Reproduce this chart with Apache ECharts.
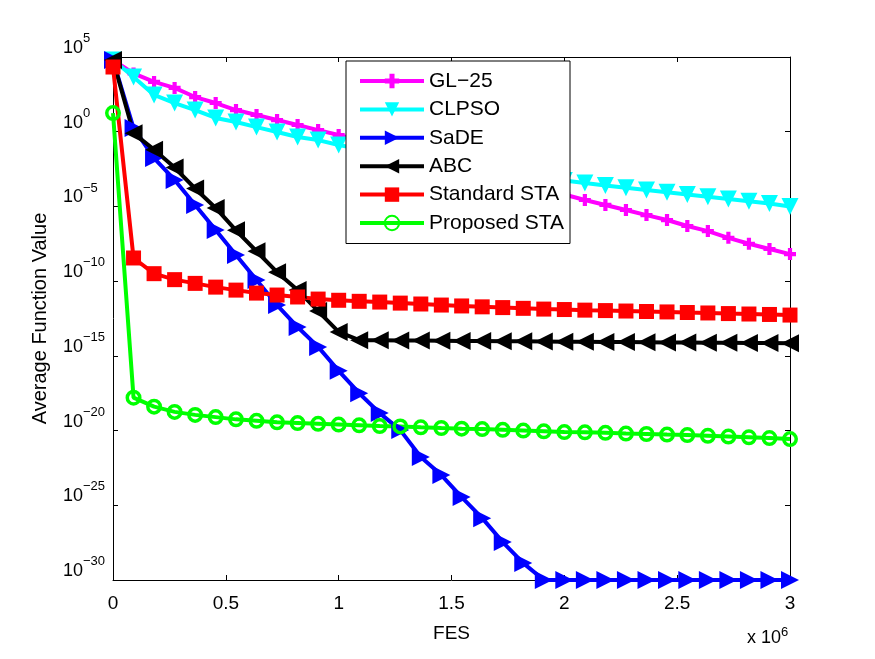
<!DOCTYPE html>
<html>
<head>
<meta charset="utf-8">
<script src="https://cdn.jsdelivr.net/npm/echarts@6/dist/echarts.min.js"></script>
<style>
  html, body { margin: 0; padding: 0; background: #ffffff; }
  #chart { width: 875px; height: 659px; }
</style>
</head>
<body>
<div id="chart"></div>
<script>
// FES in units of 1e6 (one marker per sample)
var fes = [0, 0.091, 0.182, 0.273, 0.364, 0.455, 0.545, 0.636, 0.727, 0.818,
  0.909, 1.0, 1.091, 1.182, 1.273, 1.364, 1.455, 1.545, 1.636, 1.727,
  1.818, 1.909, 2.0, 2.091, 2.182, 2.273, 2.364, 2.455, 2.545, 2.636,
  2.727, 2.818, 2.909, 3.0]

// log10 of average function value
var gl25 = [4.8, 3.9, 3.33, 2.93, 2.32, 1.92, 1.45, 1.12, 0.78, 0.45,
  0.11, -0.22, -0.58, -0.94, -1.3, -1.66, -2.02, -2.38, -2.74, -3.1,
  -3.46, -3.83, -4.2, -4.57, -4.9, -5.24, -5.58, -5.91, -6.31, -6.65,
  -7.1, -7.5, -7.85, -8.19]
var clpso = [4.8, 3.66, 2.46, 1.92, 1.45, 0.92, 0.65, 0.31, -0.02, -0.35,
  -0.56, -0.89, -1.15, -1.4, -1.65, -1.88, -2.1, -2.32, -2.53, -2.73,
  -2.92, -3.1, -3.27, -3.43, -3.6, -3.75, -3.9, -4.05, -4.2, -4.35,
  -4.5, -4.65, -4.8, -5.0]
var sade = [4.8, 0.25, -1.76, -3.23, -4.9, -6.58, -8.25, -9.93, -11.6, -13.07,
  -14.4, -16.0, -17.5, -18.83, -19.97, -21.77, -22.98, -24.45, -25.86, -27.46,
  -28.87, -30, -30, -30, -30, -30, -30, -30, -30, -30,
  -30, -30, -30, -30]
var abc = [4.8, -0.1, -1.2, -2.4, -3.8, -5.1, -6.6, -8.0, -9.4, -10.6,
  -12.0, -13.4, -13.95, -13.96, -13.97, -13.98, -13.99, -14.0, -14.01, -14.02,
  -14.03, -14.04, -14.05, -14.06, -14.07, -14.08, -14.09, -14.1, -14.11, -14.12,
  -14.13, -14.14, -14.14, -14.15]
var standardSta = [4.33, -8.45, -9.5, -9.9, -10.15, -10.4, -10.6, -10.8, -10.93, -11.06,
  -11.2, -11.28, -11.35, -11.4, -11.47, -11.53, -11.6, -11.66, -11.72, -11.77,
  -11.82, -11.87, -11.9, -11.94, -11.97, -12.0, -12.03, -12.06, -12.1, -12.13,
  -12.17, -12.2, -12.23, -12.27]
var proposedSta = [1.25, -17.8, -18.4, -18.75, -18.95, -19.1, -19.25, -19.35, -19.45, -19.5,
  -19.55, -19.6, -19.65, -19.7, -19.72, -19.78, -19.83, -19.87, -19.9, -19.95,
  -20.0, -20.05, -20.1, -20.12, -20.15, -20.2, -20.23, -20.27, -20.3, -20.35,
  -20.4, -20.45, -20.5, -20.57]

var FONT = '"Liberation Sans", Arial, Helvetica, sans-serif'
var plusPath = 'path://M0,3.25H3.25V0H6.75V3.25H10V6.75H6.75V10H3.25V6.75H0Z'

function toPoints(logs) {
  return logs.map(function (v, i) { return [fes[i], v] })
}

function makeSeries(name, logs, color, symbol, size, rotate, extra) {
  var s = {
    name: name,
    type: 'line',
    data: toPoints(logs),
    symbol: symbol,
    symbolSize: size,
    symbolRotate: rotate,
    showAllSymbol: true,
    lineStyle: { color: color, width: 4 },
    itemStyle: { color: color },
    emphasis: { disabled: true }
  }
  if (extra) s.itemStyle = extra
  return s
}

var chartDom = document.getElementById('chart')
var myChart = echarts.init(chartDom)

var axisLineStyle = { onZero: false, lineStyle: { color: '#000000', width: 1 } }
var tickStyle = { show: true, inside: true, length: 5, lineStyle: { color: '#000000', width: 1 } }

var option = {
  animation: false,
  backgroundColor: '#ffffff',
  grid: { left: 113, right: 85, top: 57, bottom: 79 },
  legend: {
    left: 346,
    top: 61,
    orient: 'vertical',
    backgroundColor: '#ffffff',
    borderColor: '#000000',
    borderWidth: 1,
    padding: [9.5, 6, 10, 12],
    itemWidth: 64,
    itemHeight: 18,
    itemGap: 7.4,
    lineStyle: { width: 4 },
    textStyle: { fontFamily: FONT, fontSize: 21, color: '#000000', lineHeight: 18 },
    data: ['GL\u221225', 'CLPSO', 'SaDE', 'ABC', 'Standard STA', 'Proposed STA']
  },
  xAxis: [
    {
      type: 'value',
      min: 0,
      max: 3,
      interval: 0.5,
      position: 'bottom',
      name: 'FES',
      nameLocation: 'middle',
      nameGap: 44,
      nameTextStyle: { fontFamily: FONT, fontSize: 19, color: '#000000' },
      axisLine: axisLineStyle,
      axisTick: tickStyle,
      axisLabel: { fontFamily: FONT, fontSize: 19, color: '#000000', margin: 14 },
      splitLine: { show: false }
    },
    {
      type: 'value',
      min: 0,
      max: 3,
      interval: 0.5,
      position: 'top',
      axisLine: axisLineStyle,
      axisTick: tickStyle,
      axisLabel: { show: false },
      splitLine: { show: false }
    }
  ],
  yAxis: [
    {
      // exponent axis: labels drawn as 10^n
      type: 'value',
      min: -30,
      max: 5,
      interval: 5,
      position: 'left',
      name: 'Average Function Value',
      nameLocation: 'middle',
      nameGap: 63,
      nameTextStyle: { fontFamily: FONT, fontSize: 20, color: '#000000' },
      axisLine: axisLineStyle,
      axisTick: tickStyle,
      axisLabel: {
        align: 'left',
        margin: 50,
        verticalAlign: 'bottom',
        formatter: function (v) {
          return '{b|10}{e|' + String(v).replace('-', '\u2212') + '}'
        },
        rich: {
          b: { fontFamily: FONT, fontSize: 18, color: '#000000', lineHeight: 9, verticalAlign: 'bottom' },
          e: { fontFamily: FONT, fontSize: 13, color: '#000000', lineHeight: 9, verticalAlign: 'bottom', padding: [0, 0, 12, 0] }
        }
      },
      splitLine: { show: false }
    },
    {
      type: 'value',
      min: -30,
      max: 5,
      interval: 5,
      position: 'right',
      axisLine: axisLineStyle,
      axisTick: tickStyle,
      axisLabel: { show: false },
      splitLine: { show: false }
    }
  ],
  graphic: [
    {
      type: 'text',
      left: 747,
      top: 626,
      style: {
        text: 'x 10{s|6}',
        font: '18px ' + FONT,
        fill: '#000000',
        rich: { s: { fontFamily: FONT, fontSize: 13, padding: [0, 0, 11, 0] } }
      }
    }
  ],
  series: [
    makeSeries('GL\u221225', gl25, '#ff00ff', plusPath, 12, 0),
    makeSeries('CLPSO', clpso, '#00ffff', 'triangle', 17, 180),
    makeSeries('SaDE', sade, '#0000ff', 'triangle', 18, -90),
    makeSeries('ABC', abc, '#000000', 'triangle', 18, 90),
    makeSeries('Standard STA', standardSta, '#ff0000', 'rect', 15, 0),
    makeSeries('Proposed STA', proposedSta, '#00ff00', 'circle', 12.5, 0,
      { color: 'rgba(255,255,255,0)', borderColor: '#00ff00', borderWidth: 3.5 })
  ]
}

option && myChart.setOption(option)
</script>
</body>
</html>
